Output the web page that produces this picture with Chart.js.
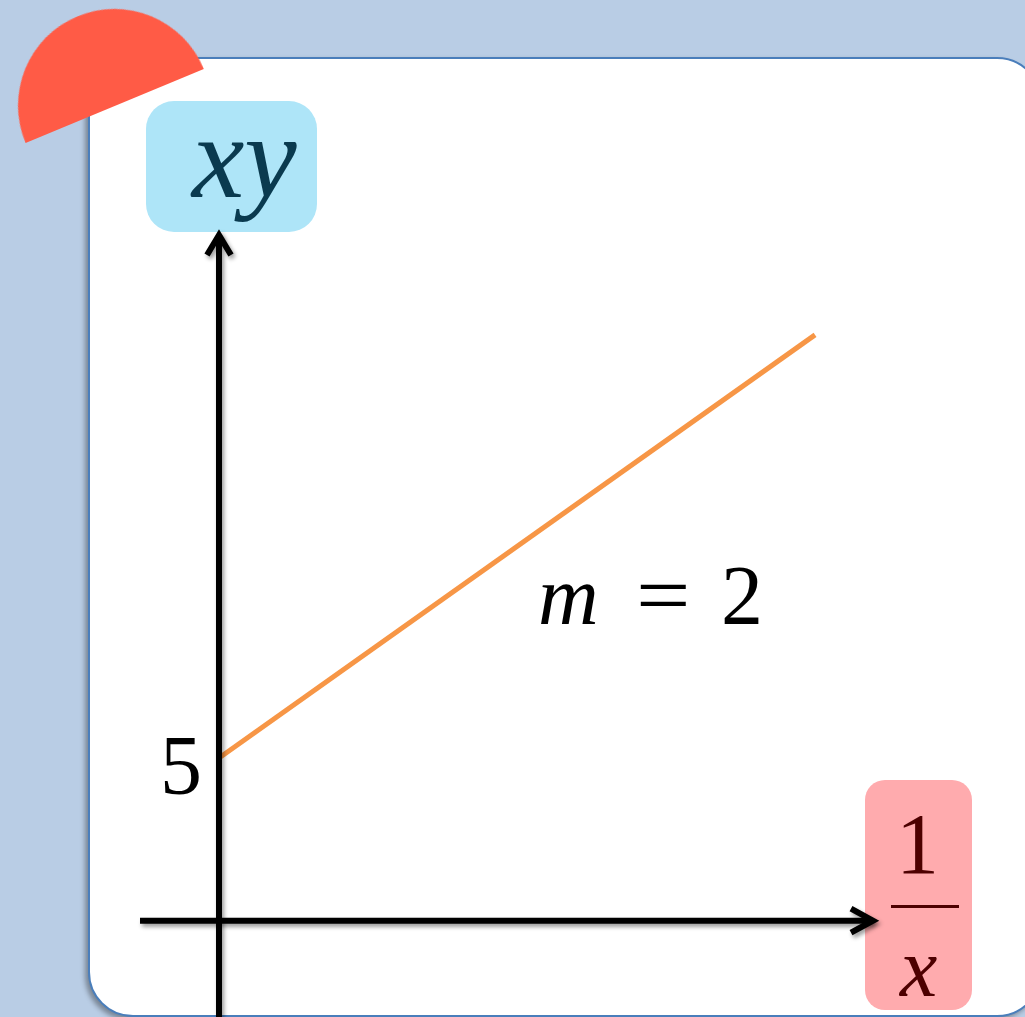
<!DOCTYPE html>
<html>
<head>
<meta charset="utf-8">
<script src="https://cdn.jsdelivr.net/npm/chart.js@4.4.0/dist/chart.umd.min.js"></script>
<style>
  html, body { margin: 0; padding: 0; }
  body { width: 1025px; height: 1017px; background: #b9cde5; position: relative; overflow: hidden;
         font-family: "Liberation Serif", "DejaVu Serif", serif; }
  #card { position: absolute; left: 88px; top: 57px; width: 950px; height: 956px; background: #fff;
          border: 2px solid #4a7ebb; border-radius: 45px; box-shadow: -3px 3px 5px rgba(0,0,0,0.35); }
  #cap { position: absolute; left: 17.5px; top: 8.5px; width: 193px; height: 96.5px; background: #ff5b46;
         border-radius: 96.5px 96.5px 0 0; transform-origin: 50% 100%; transform: rotate(-22.6deg); z-index: 5; }
  #chart { position: absolute; left: 0; top: 0; z-index: 2; }
  .txt { position: absolute; line-height: 1; white-space: nowrap; z-index: 4; }
  #ybox { position: absolute; left: 146px; top: 101px; width: 171px; height: 131px; background: #aee5f8;
          border-radius: 28px; z-index: 1; }
  #xbox { position: absolute; left: 865px; top: 780px; width: 107px; height: 230px; background: #ffabae;
          border-radius: 20px; z-index: 1; }
  #bar { position: absolute; left: 891px; top: 905px; width: 68px; height: 3px; background: #4d0000; z-index: 4; }
</style>
</head>
<body>
<div id="card"></div>
<div id="ybox"></div>
<div id="xbox"></div>
<canvas id="chart" width="1025" height="1017"></canvas>
<div id="cap"></div>

<div class="txt" id="ylab" style="left:192px; top:99px; font-size:118px; font-style:italic; color:#0a3a4f;">xy</div>

<div class="txt" style="left:896px; top:801px; font-size:86px; color:#4d0000;">1</div>
<div id="bar"></div>
<div class="txt" style="left:900px; top:926px; font-size:84px; font-style:italic; color:#4d0000;">x</div>

<div class="txt" id="tick5" style="left:100px; width:102px; text-align:right; font-size:84px; color:#000;">5</div>

<div class="txt" style="left:538px; top:554px; font-size:84px; font-style:italic; color:#000;">m</div>
<div class="txt" style="left:636px; top:554px; font-size:84px; color:#000; transform:scaleX(1.15); transform-origin:0 0;">=</div>
<div class="txt" style="left:721px; top:554px; font-size:84px; color:#000;">2</div>

<script>
// line: xy = 5 + 2 * (1/x)
const xValues = [0, 6.5];
const yValues = [5, 18];
const tickValues = [5];

const points = xValues.map((v, i) => ({ x: v, y: yValues[i] }));

const axesPlugin = {
    id: 'arrowAxes',
    afterDatasetsDraw(chart) {
        const ctx = chart.ctx;
        const area = chart.chartArea;
        const x0 = chart.scales.x.getPixelForValue(0);
        const y0 = chart.scales.y.getPixelForValue(0);
        ctx.save();
        ctx.strokeStyle = '#000';
        ctx.lineWidth = 6;
        ctx.lineJoin = 'miter';
        ctx.shadowColor = 'rgba(0,0,0,0.4)';
        ctx.shadowBlur = 4;
        ctx.shadowOffsetX = 2;
        ctx.shadowOffsetY = 3;
        // y axis
        ctx.beginPath();
        ctx.moveTo(x0, chart.height + 5);
        ctx.lineTo(x0, area.top + 2);
        ctx.stroke();
        ctx.beginPath();
        ctx.moveTo(x0 - 12, area.top + 22);
        ctx.lineTo(x0, area.top + 2);
        ctx.lineTo(x0 + 12, area.top + 22);
        ctx.stroke();
        // x axis
        ctx.beginPath();
        ctx.moveTo(area.left, y0);
        ctx.lineTo(area.right - 2, y0);
        ctx.stroke();
        ctx.beginPath();
        ctx.moveTo(area.right - 24, y0 - 12);
        ctx.lineTo(area.right - 2, y0);
        ctx.lineTo(area.right - 24, y0 + 12);
        ctx.stroke();
        ctx.restore();
    }
};

const chart = new Chart(document.getElementById('chart'), {
    type: 'line',
    data: {
        datasets: [{
            data: points,
            borderColor: '#f79646',
            borderWidth: 5,
            pointRadius: 0,
            borderCapStyle: 'butt',
            tension: 0
        }]
    },
    options: {
        responsive: false,
        animation: false,
        layout: { padding: { left: 140, right: 150, top: 233, bottom: 0 } },
        scales: {
            x: { type: 'linear', min: -0.8615, max: 7.154, display: false },
            y: { type: 'linear', min: -2.96, max: 21.13, display: false }
        },
        plugins: { legend: { display: false }, tooltip: { enabled: false } }
    },
    plugins: [axesPlugin]
});

// place the tick label at its value on the y scale
const t5 = document.getElementById('tick5');
t5.style.top = (chart.scales.y.getPixelForValue(tickValues[0]) - 34) + 'px';
</script>
</body>
</html>
